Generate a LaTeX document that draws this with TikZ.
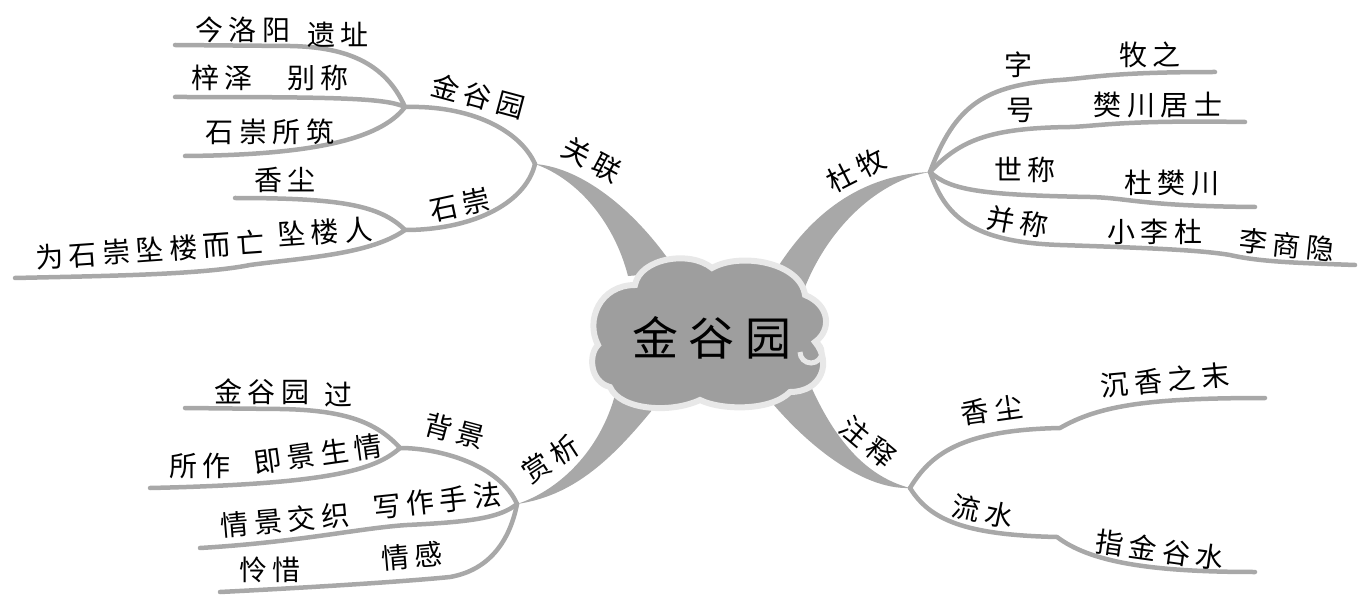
\documentclass[tikz,border=0pt]{standalone}
\usepackage{fontspec}
\newfontfamily\cjk[LetterSpace=20]{Noto Sans CJK SC}
\newfontfamily\cjktitle[LetterSpace=22]{Noto Sans CJK SC}
\definecolor{br}{RGB}{168,168,168}
\definecolor{cloudfill}{RGB}{158,158,158}
\definecolor{halo}{RGB}{232,232,232}
\begin{document}
\begin{tikzpicture}[x=1pt,y=-1pt,
  lbl/.style={font=\cjk\fontsize{28}{30}\selectfont, inner sep=0pt, anchor=center},
  twig/.style={draw=br, line width=4.5pt, line cap=round},
  limb/.style={fill=br}]
\useasboundingbox (0,0) rectangle (1363,596);

% junctions
\coordinate (J1) at (535,164);
\coordinate (J2) at (930,172);
\coordinate (J3) at (910,488);
\coordinate (J4) at (517,504);
\coordinate (JA) at (405,107);
\coordinate (JB) at (405,230);
\coordinate (JC) at (400,448);
% free ends
\coordinate (e1) at (175,45);
\coordinate (e2) at (175,97);
\coordinate (e3) at (185,156);
\coordinate (e4) at (235,198);
\coordinate (e5) at (15,278);
\coordinate (f1) at (1215,72);
\coordinate (f2) at (1245,122);
\coordinate (f3) at (1255,207);
\coordinate (f4) at (1355,265);
\coordinate (g1) at (1265,398);
\coordinate (g2) at (1255,572);
\coordinate (h1) at (185,408);
\coordinate (h2) at (150,488);
\coordinate (h3) at (200,548);
\coordinate (h4) at (220,592);

% thick limbs
\fill[limb] (J1) .. controls (585,168) and (640,215) .. (677,272) -- (628,276) .. controls (615,225) and (580,180) .. (J1);
\fill[limb] (776,270) .. controls (810,215) and (860,175) .. (J2) .. controls (880,180) and (830,225) .. (805,287) -- cycle;
\fill[limb] (809,382) .. controls (830,430) and (860,475) .. (J3) .. controls (860,490) and (800,440) .. (760,388) -- cycle;
\fill[limb] (J4) .. controls (560,490) and (600,450) .. (615,395) -- (662,398) .. controls (620,450) and (580,495) .. (J4);

% twigs top-left
\draw[twig] (JA) .. controls (385,62) and (345,47) .. (290,46) -- (e1);
\draw[twig] (JA) .. controls (385,98) and (340,97) .. (e2);
\draw[twig] (JA) .. controls (380,140) and (310,155) .. (e3);
\draw[twig] (JA) .. controls (470,105) and (520,130) .. (J1);
\draw[twig] (JB) .. controls (470,230) and (525,205) .. (J1);
\draw[twig] (JB) .. controls (380,205) and (340,198) .. (e4);
\draw[twig] (JB) .. controls (370,255) and (300,258) .. (250,265) .. controls (200,275) and (100,276) .. (e5);
% twigs top-right
\draw[twig] (J2) .. controls (955,105) and (985,85) .. (1060,80) .. controls (1090,78) and (1110,72) .. (f1);
\draw[twig] (J2) .. controls (960,140) and (990,128) .. (1070,127) .. controls (1100,126) and (1120,120) .. (f2);
\draw[twig] (J2) .. controls (950,190) and (980,195) .. (1090,197) .. controls (1130,198) and (1140,206) .. (f3);
\draw[twig] (J2) .. controls (945,215) and (970,242) .. (1060,245) .. controls (1150,248) and (1200,250) .. (1230,255) .. controls (1260,262) and (1300,263) .. (f4);
% twigs bottom-right
\draw[twig] (J3) .. controls (930,455) and (960,430) .. (1060,428) .. controls (1100,405) and (1150,398) .. (g1);
\draw[twig] (J3) .. controls (930,520) and (965,535) .. (1057,537) .. controls (1090,562) and (1150,572) .. (g2);
% twigs bottom-left
\draw[twig] (J4) .. controls (500,465) and (440,448) .. (JC);
\draw[twig] (JC) .. controls (375,420) and (340,410) .. (280,409) -- (h1);
\draw[twig] (JC) .. controls (375,470) and (330,484) .. (h2);
\draw[twig] (J4) .. controls (500,518) and (470,522) .. (407,525) .. controls (360,528) and (300,542) .. (h3);
\draw[twig] (J4) .. controls (510,540) and (490,570) .. (450,577) .. controls (400,582) and (300,588) .. (h4);

% cloud
\filldraw[fill=cloudfill, draw=halo, line width=6pt]
  (598,345) .. controls (585,320) and (600,285) .. (635,285)
  .. controls (640,258) and (690,250) .. (712,268)
  .. controls (740,252) and (800,262) .. (805,295)
  .. controls (830,305) and (832,330) .. (815,342)
  .. controls (832,362) and (822,392) .. (790,392)
  .. controls (770,412) and (720,410) .. (700,400)
  .. controls (670,414) and (620,410) .. (610,387)
  .. controls (590,382) and (588,355) .. (598,345) -- cycle;
\draw[halo, line width=5pt] (800,352) arc[start angle=180, end angle=-60, radius=11];
\fill[cloudfill] (811,353) circle[radius=5];
\node[font=\cjktitle\fontsize{46}{50}\selectfont, inner sep=0pt] (root) at (712,338) {金谷园};

% labels
\node[lbl, rotate=-28] (guanlian) at (592,160) {关联};
\node[lbl, rotate=-15] (jgy) at (478,96) {金谷园};
\node[lbl] (t1a) at (243,30) {今洛阳};
\node[lbl] (t1b) at (338,35) {遗址};
\node[lbl] (t2a) at (222,78) {梓泽};
\node[lbl] (t2b) at (318,78) {别称};
\node[lbl] (t3) at (270,132) {石崇所筑};
\node[lbl, rotate=12] (shichong) at (460,205) {石崇};
\node[lbl] (t4) at (285,180) {香尘};
\node[lbl, rotate=4] (t5a) at (150,250) {为石崇坠楼而亡};
\node[lbl, rotate=4] (t5b) at (325,232) {坠楼人};

\node[lbl, rotate=27] (dumu) at (856,170) {杜牧};
\node[lbl] (zi) at (1018,65) {字};
\node[lbl] (zib) at (1150,55) {牧之};
\node[lbl] (hao) at (1020,110) {号};
\node[lbl] (haob) at (1158,105) {樊川居士};
\node[lbl] (shi) at (1025,170) {世称};
\node[lbl] (shib) at (1172,183) {杜樊川};
\node[lbl, rotate=-10] (bing) at (1018,222) {并称};
\node[lbl] (bingb) at (1155,232) {小李杜};
\node[lbl, rotate=-6] (bingc) at (1287,245) {李商隐};

\node[lbl, rotate=-40] (zhushi) at (868,442) {注释};
\node[lbl, rotate=8] (xc) at (992,410) {香尘};
\node[lbl, rotate=5] (xcb) at (1165,380) {沉香之末};
\node[lbl, rotate=-12] (ls) at (983,512) {流水};
\node[lbl, rotate=-8] (lsb) at (1160,550) {指金谷水};

\node[lbl, rotate=33] (shangxi) at (550,459) {赏析};
\node[lbl, rotate=-15] (beijing) at (455,431) {背景};
\node[lbl] (b1a) at (262,392) {金谷园};
\node[lbl] (b1b) at (338,395) {过};
\node[lbl] (b2a) at (200,466) {所作};
\node[lbl, rotate=8] (b2b) at (318,454) {即景生情};
\node[lbl, rotate=6] (xz) at (437,501) {写作手法};
\node[lbl, rotate=5] (xzb) at (285,520) {情景交织};
\node[lbl, rotate=5] (qg) at (412,556) {情感};
\node[lbl] (qgb) at (270,570) {怜惜};
\end{tikzpicture}
\end{document}
